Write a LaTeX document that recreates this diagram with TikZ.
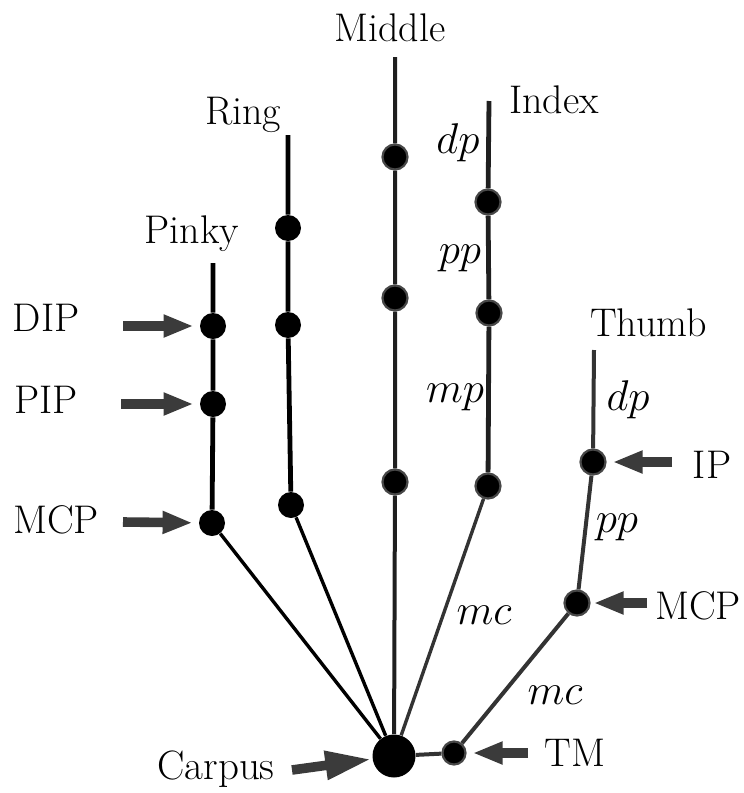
\RequirePackage{fix-cm}
\documentclass[tikz,border=0pt]{standalone}
\usetikzlibrary{arrows.meta}

\begin{document}
\begin{tikzpicture}[x = 0.5pt, y = -0.5pt,
    font = \fontsize{20}{23}\selectfont,
    joint/.style = {circle, fill = black, inner sep = 0pt, minimum size = 13pt},
    gjoint/.style = {joint, draw = black!72, line width = 1.1pt, minimum size = 12.5pt},
    bone/.style = {line width = 2.4pt},
    link/.style = {line width = 1.7pt},
    bname/.style = {font = \fontsize{21.5}{24}\selectfont},
    jarrow/.style = {line width = 4.8pt, draw = black!77, -{Triangle[length = 15pt, width = 10.5pt]}, shorten >= 3pt}]

    \useasboundingbox (0, 0) rectangle (744, 793);

    % joints
    \node[joint, minimum size = 21.5pt] (carpus) at (394, 756) {};

    \node[joint] (pD) at (213, 326) {};
    \node[joint] (pP) at (213, 404) {};
    \node[joint] (pM) at (212, 523) {};

    \node[joint] (rD) at (288, 228) {};
    \node[joint] (rP) at (288, 325) {};
    \node[joint] (rM) at (291, 505) {};

    \node[gjoint] (mD) at (395, 157) {};
    \node[gjoint] (mP) at (395, 298) {};
    \node[gjoint] (mM) at (395, 482) {};

    \node[gjoint] (iD) at (488, 202) {};
    \node[gjoint] (iP) at (489, 313) {};
    \node[gjoint] (iM) at (488, 486) {};

    \node[gjoint] (tI) at (593, 462) {};
    \node[gjoint] (tM) at (577, 603) {};
    \node[gjoint, minimum size = 11.5pt] (tT) at (454, 753) {};

    \coordinate (pTop) at (213, 263);
    \coordinate (rTop) at (288, 135);
    \coordinate (mTop) at (395, 57);
    \coordinate (iTop) at (489, 101);
    \coordinate (tTop) at (594, 350);

    % fingers
    \draw[bone] (pTop) -- (pD) -- (pP) -- (pM);
    \draw[bone] (rTop) -- (rD) -- (rP) -- (rM);
    \draw[line width = 2pt, black!88] (mTop) -- (mD) -- (mP) -- (mM) -- (carpus);
    \draw[bone, black!88] (iTop) -- (iD) -- (iP) -- (iM);
    \draw[line width = 2pt, black!80] (tTop) -- (tI) -- (tM) -- (tT) -- (carpus);

    \draw[link] (pM) -- (carpus);
    \draw[link] (rM) -- (carpus);
    \draw[link, black!80] (iM) -- (carpus);

    % finger names
    \node (lPinky) at (192, 234) {Pinky};
    \node (lRing) at (243, 115) {Ring};
    \node (lMiddle) at (390, 28) {Middle};
    \node[anchor = west] (lIndex) at (502, 100) {Index};
    \node[anchor = west] (lThumb) at (583, 323) {Thumb};

    % bone names
    \node[bname] (iDp) at (458, 143) {$dp$};
    \node[bname] (iPp) at (460, 258) {$pp$};
    \node[bname] (iMp) at (455, 397) {$mp$};
    \node[bname] (iMc) at (484, 615) {$mc$};
    \node[bname] (tDp) at (628, 400) {$dp$};
    \node[bname] (tPp) at (617, 527) {$pp$};
    \node[bname] (tMc) at (555, 695) {$mc$};

    % joint names and arrows
    \node (lDIP) at (46, 318) {DIP};
    \node (lPIP) at (46, 400) {PIP};
    \node (lMCP) at (56, 520) {MCP};
    \node (lIP) at (712, 465) {IP};
    \node (lTMCP) at (698, 606) {MCP};
    \node (lTM) at (575, 753) {TM};
    \node[font = \fontsize{20.5}{23}\selectfont] (lCarpus) at (216, 769) {Carpus};

    \coordinate (aDIP) at (123, 326);
    \coordinate (aPIP) at (121, 404);
    \coordinate (aMCP) at (123, 522);
    \coordinate (aIP) at (672, 462);
    \coordinate (aTMCP) at (647, 603);
    \coordinate (aTM) at (528, 753);
    \coordinate (aCarpus) at (292, 770);

    \draw[jarrow] (aDIP) -- (pD);
    \draw[jarrow] (aPIP) -- (pP);
    \draw[jarrow] (aMCP) -- (pM);
    \draw[jarrow] (aIP) -- (tI);
    \draw[jarrow, shorten >= 1.5pt] (aTMCP) -- (tM);
    \draw[jarrow] (aTM) -- (tT);
    \draw[jarrow, -{Triangle[length = 23pt, width = 13.5pt]}, shorten >= 0.5pt] (aCarpus) -- (carpus);
\end{tikzpicture}
\end{document}
